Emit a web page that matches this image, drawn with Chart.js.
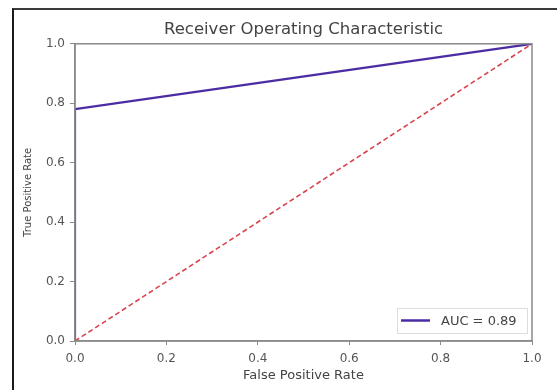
<!DOCTYPE html>
<html>
<head>
<meta charset="utf-8">
<script src="https://cdn.jsdelivr.net/npm/chart.js@4/dist/chart.umd.min.js"></script>
<style>
  html, body { margin: 0; padding: 0; background: #fff; }
  #wrap { position: relative; width: 557px; height: 390px; }
  #frame { position: absolute; left: 12px; top: 8px; right: 0; bottom: 0;
           border-left: 2px solid #1a1a1a; border-top: 2px solid #3a3a3a; pointer-events: none; }
  canvas { position: absolute; left: 0; top: 0; }
</style>
</head>
<body>
<div id="wrap">
  <canvas id="c" width="557" height="390"></canvas>
  <div id="frame"></div>
</div>
<script>
// ---- data ----
const rocFpr = [0, 0, 1];
const rocTpr = [0, 0.78, 1];
const diagFpr = [0, 1];
const diagTpr = [0, 1];
const tickValues = [0, 0.2, 0.4, 0.6, 0.8, 1.0];
const tickLabels = ['0.0', '0.2', '0.4', '0.6', '0.8', '1.0'];
const aucLabel = 'AUC = 0.89';
const chartTitle = 'Receiver Operating Characteristic';
const xTitle = 'False Positive Rate';
const yTitle = 'True Positive Rate';

const FONT = "'DejaVu Sans', sans-serif";
const rocPoints = rocFpr.map((x, i) => ({ x: x, y: rocTpr[i] }));
const diagPoints = diagFpr.map((x, i) => ({ x: x, y: diagTpr[i] }));

const boxPlugin = {
  id: 'boxAndLegend',
  afterDatasetsDraw(chart) {
    const { ctx, chartArea: a } = chart;
    ctx.save();
    ctx.strokeStyle = '#8a8a8a';
    ctx.lineWidth = 1.5;
    ctx.strokeRect(a.left, a.top, a.right - a.left, a.bottom - a.top);
    // legend box (lower right)
    const ds = chart.data.datasets[0];
    const bx = a.right - 135, by = a.bottom - 33, bw = 130, bh = 25;
    ctx.fillStyle = 'rgba(255,255,255,0.85)';
    ctx.strokeStyle = '#dddddd';
    ctx.lineWidth = 1;
    ctx.fillRect(bx, by, bw, bh);
    ctx.strokeRect(bx + 0.5, by + 0.5, bw, bh);
    ctx.strokeStyle = ds.borderColor;
    ctx.lineWidth = 2.5;
    ctx.beginPath();
    ctx.moveTo(bx + 4, by + bh / 2);
    ctx.lineTo(bx + 33, by + bh / 2);
    ctx.stroke();
    ctx.fillStyle = '#444';
    ctx.font = '13px ' + FONT;
    ctx.textBaseline = 'middle';
    ctx.textAlign = 'left';
    ctx.fillText(ds.label, bx + 44, by + bh / 2 + 1);
    ctx.restore();
  }
};

new Chart(document.getElementById('c'), {
  type: 'scatter',
  data: {
    datasets: [
      { label: aucLabel, data: rocPoints, showLine: true, borderColor: '#4b2ca3',
        borderWidth: 2.2, pointRadius: 0, fill: false, tension: 0 },
      { label: 'chance', data: diagPoints, showLine: true, borderColor: '#d8454f',
        borderWidth: 1.6, borderDash: [5, 3], pointRadius: 0, fill: false, tension: 0 }
    ]
  },
  options: {
    responsive: false,
    animation: false,
    layout: { padding: { left: 22, right: 25, top: 16, bottom: 7 } },
    plugins: {
      legend: { display: false },
      tooltip: { enabled: false },
      title: { display: true, text: chartTitle, fullSize: false, color: '#444',
               font: { family: FONT, size: 16.5, weight: 'normal' },
               padding: { top: 4, bottom: 4 } }
    },
    scales: {
      x: {
        type: 'linear', min: 0, max: 1,
        afterBuildTicks: s => { s.ticks = tickValues.map(v => ({ value: v })); },
        afterFit: s => { s.height = 42; },
        ticks: { callback: (v, i) => tickLabels[i], color: '#555', font: { family: FONT, size: 12 },
                 padding: 7, maxRotation: 0 },
        grid: { drawOnChartArea: false, drawTicks: true, tickLength: 4, color: '#8a8a8a' },
        border: { color: '#8a8a8a', width: 1.5 },
        title: { display: true, text: xTitle, color: '#444', font: { family: FONT, size: 13 },
                 padding: { top: 0, bottom: 0 } }
      },
      y: {
        type: 'linear', min: 0, max: 1,
        afterBuildTicks: s => { s.ticks = tickValues.map(v => ({ value: v })); },
        afterFit: s => { s.width = 53; },
        ticks: { callback: (v, i) => tickLabels[i], color: '#555', font: { family: FONT, size: 12 },
                 padding: 5 },
        grid: { drawOnChartArea: false, drawTicks: true, tickLength: 5, color: '#8a8a8a' },
        border: { color: '#8a8a8a', width: 1.5 },
        title: { display: true, text: yTitle, color: '#444', font: { family: FONT, size: 10 },
                 padding: { top: 0, bottom: 0 } }
      }
    }
  },
  plugins: [boxPlugin]
});
</script>
</body>
</html>
